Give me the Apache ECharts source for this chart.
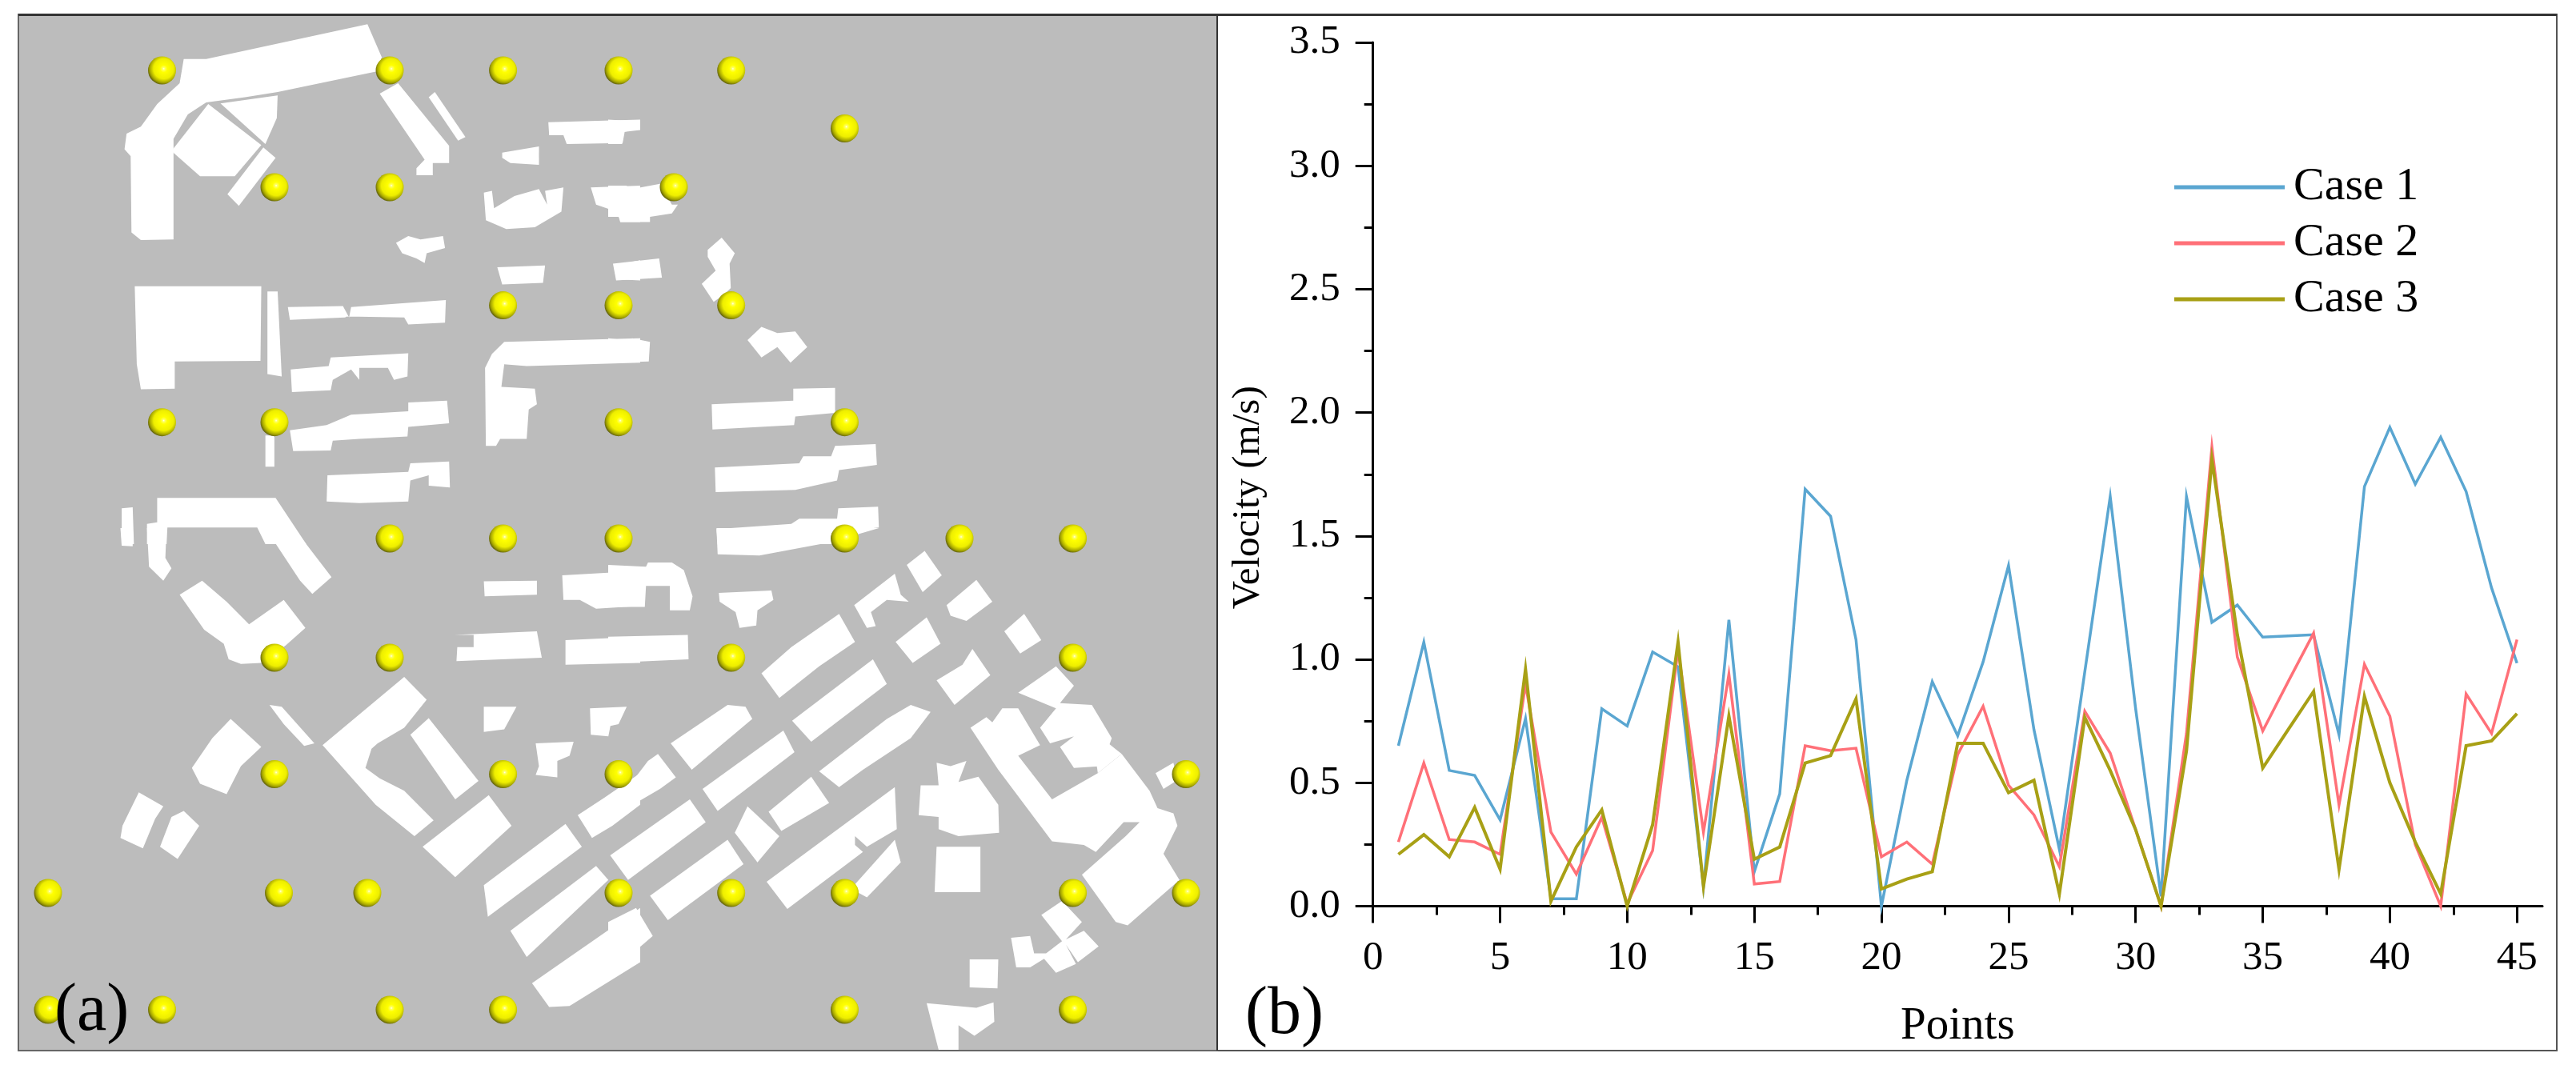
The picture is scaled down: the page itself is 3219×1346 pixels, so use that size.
<!DOCTYPE html>
<html><head><meta charset="utf-8">
<style>html,body{margin:0;padding:0;background:#fff}#c{width:3219px;height:1346px}</style>
<script src="https://cdn.jsdelivr.net/npm/echarts@6/dist/echarts.min.js"></script>
</head><body><div id="c"></div>
<script>
// ---- chart (b) data ----
const points = [1,2,3,4,5,6,7,8,9,10,11,12,13,14,15,16,17,18,19,20,21,22,23,24,25,26,27,28,29,30,31,32,33,34,35,36,37,38,39,40,41,42,43,44,45];
const case1 = [.65,1.07,.55,.53,.35,.76,.03,.03,.80,.73,1.03,.97,.08,1.16,.14,.455,1.69,1.58,1.08,0,.51,.91,.69,.99,1.38,.715,.23,.95,1.66,.80,.04,1.66,1.15,1.22,1.09,1.095,1.10,.695,1.70,1.94,1.71,1.90,1.68,1.29,.985];
const case2 = [.26,.58,.27,.26,.21,.90,.30,.13,.36,.01,.225,1.04,.30,.94,.09,.10,.65,.63,.64,.20,.26,.17,.615,.81,.49,.37,.16,.79,.62,.31,0,.70,1.86,1.01,.71,.91,1.106,.41,.98,.77,.25,0,.86,.70,1.08];
const case3 = [.21,.29,.20,.40,.15,.96,.02,.24,.39,0,.33,1.07,.08,.77,.19,.24,.58,.61,.84,.07,.11,.14,.66,.66,.46,.51,.05,.765,.55,.31,0,.63,1.81,1.10,.56,.715,.87,.15,.85,.50,.26,.05,.65,.67,.78];
const xMajorTicks = [0,5,10,15,20,25,30,35,40,45];
const xMinorTicks = [2.5,7.5,12.5,17.5,22.5,27.5,32.5,37.5,42.5];

// ---- map (a) data: the measuring points, in map units ----
const spherePoints = [
 [202.5,88],[487,88],[628.6,88],[773,88],[913.7,88],
 [1055.5,160.5],
 [343,234],[487,234],[842,234],
 [628.6,381.6],[773,381.6],[913.7,381.6],
 [202.5,527.7],[343,527.7],[773,527.7],[1055.5,527.7],
 [487,673],[628.6,673],[773,673],[1055.5,673],[1199,673],[1340.6,673],
 [343,822],[487,822],[913.7,822],[1340.6,822],
 [343,967.5],[628.6,967.5],[773,967.5],[1482,967.5],
 [60,1116],[348.5,1116],[459,1116],[773,1116],[913.7,1116],[1055.5,1116],[1340.6,1116],[1482,1116],
 [60,1262],[202.5,1262],[487,1262],[628.6,1262],[1055.5,1262],[1340.6,1262]
];
// building footprints, traced tile by tile
const tileNW = [
 [[450,170],[505,170],[900,70],[935,165],[925,205],[680,265],[600,280],[505,295],[460,330],[425,400],[425,690],[345,692],[322,670],[320,450],[305,430],[310,385],[345,365],[385,300],[440,240]],
 [[510,300],[640,418],[575,508],[490,508],[420,435]],
 [[540,298],[680,275],[678,340],[650,415]],
 [[645,425],[675,455],[585,593],[557,560]],
 [[930,270],[975,240],[1100,420],[1100,470],[1060,470],[1060,505],[1020,505],[1020,485],[1040,460]],
 [[1050,280],[1065,265],[1140,395],[1122,405]],
 [[1343,352],[1568,345],[1568,375],[1530,380],[1525,412],[1388,415],[1380,390],[1345,390]],
 [[1230,440],[1320,422],[1320,475],[1250,470],[1230,455]],
 [[1185,555],[1205,550],[1210,600],[1260,565],[1320,545],[1340,590],[1335,550],[1380,540],[1375,610],[1310,655],[1240,660],[1190,635]],
 [[1447,540],[1568,535],[1568,640],[1520,640],[1510,610],[1460,590]],
 [[970,700],[1000,680],[1030,690],[1085,680],[1090,715],[1045,730],[1040,758],[1020,745],[985,730]],
 [[1218,770],[1335,765],[1330,815],[1230,820]],
 [[1503,765],[1568,750],[1568,808],[1510,805]],
 [[330,825],[640,825],[638,1040],[428,1042],[428,1120],[345,1122],[335,1050]],
 [[655,840],[680,840],[690,1085],[655,1078]],
 [[705,885],[840,882],[855,915],[860,885],[1092,865],[1090,930],[1000,935],[990,915],[850,912],[845,915],[710,922]],
 [[712,1065],[805,1055],[810,1030],[1000,1018],[998,1085],[965,1095],[950,1060],[880,1060],[880,1095],[860,1065],[815,1095],[810,1125],[715,1130]],
 [[1235,985],[1568,975],[1568,1045],[1290,1055],[1235,1050],[1228,1115],[1310,1120],[1315,1165],[1295,1180],[1290,1265],[1225,1265],[1215,1285],[1190,1285],[1188,1060],[1205,1020]],
 [[710,1240],[800,1225],[860,1195],[1000,1185],[1000,1160],[1095,1155],[1100,1220],[1000,1230],[998,1258],[880,1265],[815,1270],[810,1298],[718,1300]],
 [[650,1255],[672,1255],[672,1345],[650,1345]],
 [[802,1370],[1000,1360],[1005,1335],[1100,1330],[1102,1405],[1050,1400],[1050,1370],[1005,1385],[1000,1445],[880,1450],[800,1445]],
 [[298,1465],[325,1462],[328,1568],[298,1568]],
 [[385,1435],[500,1435],[675,1435],[750,1568],[650,1568],[630,1520],[410,1520],[408,1568],[360,1568],[360,1510],[385,1505]]
];
const tileNE = [
 [[0,345],[75,350],[78,372],[40,380],[35,415],[0,415]],
 [[0,535],[45,535],[60,545],[130,530],[160,590],[175,590],[160,615],[105,625],[105,640],[30,640],[28,625],[0,625]],
 [[12,760],[128,745],[135,800],[20,808]],
 [[0,975],[40,980],[50,1005],[60,975],[105,985],[102,1042],[0,1045]],
 [[250,720],[285,685],[318,730],[305,760],[308,830],[290,850],[265,870],[235,818],[270,780],[250,740]],
 [[350,980],[385,942],[425,960],[470,955],[500,1000],[458,1045],[425,1000],[385,1030]],
 [[260,1165],[465,1155],[465,1120],[570,1118],[570,1190],[470,1200],[467,1225],[262,1238]],
 [[268,1347],[480,1335],[490,1315],[560,1315],[570,1285],[672,1280],[675,1340],[580,1355],[575,1385],[470,1412],[270,1418]],
 [[272,1525],[460,1510],[480,1495],[575,1495],[578,1465],[678,1460],[680,1520],[600,1530],[600,1568],[275,1568]]
];
const tileSW = [
 [[295,0],[325,0],[325,52],[298,50]],
 [[360,0],[408,0],[405,85],[420,115],[400,150],[365,110]],
 [[650,0],[720,0],[812,140],[765,188],[735,150]],
 [[440,190],[495,150],[555,210],[610,275],[695,205],[748,285],[700,335],[640,385],[590,388],[560,375],[548,330],[500,290]],
 [[660,505],[690,510],[770,615],[745,622],[695,560]],
 [[470,685],[520,600],[565,545],[640,625],[590,680],[555,760],[490,730]],
 [[340,755],[400,795],[380,830],[350,915],[295,885],[300,850]],
 [[420,825],[450,808],[488,850],[435,945],[392,910]],
 [[790,620],[990,425],[1045,490],[990,570],[925,615],[910,630],[895,685],[930,715],[990,750],[1062,835],[1015,880],[920,790]],
 [[1005,590],[1050,543],[1172,722],[1115,775]],
 [[1035,910],[1197,763],[1253,850],[1115,997]],
 [[1185,152],[1315,150],[1315,190],[1187,195]],
 [[1377,135],[1568,122],[1568,222],[1460,230],[1420,205],[1380,205]],
 [[1113,305],[1315,295],[1327,370],[1118,380],[1120,340],[1160,340],[1160,305]],
 [[1385,320],[1568,310],[1568,385],[1385,390]],
 [[1185,510],[1265,510],[1235,575],[1185,582]],
 [[1445,515],[1535,510],[1515,560],[1495,565],[1490,595],[1447,590]],
 [[1312,615],[1405,610],[1395,650],[1365,665],[1365,712],[1312,705],[1320,680]],
 [[1415,820],[1480,770],[1568,700],[1568,790],[1500,850],[1450,885]],
 [[1185,1020],[1385,845],[1425,910],[1195,1110]],
 [[1250,1150],[1460,965],[1490,1005],[1290,1225]],
 [[1303,1300],[1568,1085],[1568,1240],[1395,1365],[1345,1368]]
];
const tileSE = [
 [[0,105],[95,110],[100,98],[160,98],[190,120],[212,195],[205,235],[155,235],[155,165],[95,165],[92,225],[0,225]],
 [[0,310],[200,305],[202,375],[0,385]],
 [[278,185],[410,178],[415,205],[375,235],[372,278],[330,285],[320,240],[280,210]],
 [[0,790],[40,755],[100,665],[125,645],[170,712],[130,745],[55,795],[0,845]],
 [[5,935],[205,775],[245,840],[50,1005]],
 [[0,1125],[70,1085],[112,1165],[0,1275]],
 [[272,0],[680,0],[560,40],[380,78],[275,75]],
 [[385,415],[460,340],[580,245],[620,325],[530,395],[430,485]],
 [[618,220],[720,130],[735,190],[755,210],[700,205],[660,240],[672,280],[650,285]],
 [[750,105],[795,65],[838,135],[790,183]],
 [[850,220],[925,148],[965,210],[900,265],[860,250]],
 [[157,615],[300,505],[345,510],[362,545],[210,690]],
 [[462,550],[665,375],[700,445],[510,610]],
 [[722,325],[800,255],[835,330],[765,385]],
 [[825,435],[890,390],[915,345],[960,420],[870,505]],
 [[995,295],[1045,245],[1088,320],[1035,358]],
 [[237,745],[440,578],[468,640],[275,808]],
 [[530,695],[700,545],[760,505],[810,525],[760,600],[640,690],[580,740]],
 [[403,810],[510,710],[555,785],[435,865]],
 [[318,870],[350,795],[430,880],[375,955]],
 [[105,1050],[300,890],[340,960],[150,1120]],
 [[398,1010],[720,740],[725,860],[650,910],[620,880],[620,905],[640,925],[450,1088]],
 [[610,1030],[720,890],[735,955],[650,1055]],
 [[785,735],[830,735],[825,670],[860,680],[900,665],[880,725],[930,710],[980,790],[982,870],[880,880],[830,860],[830,825],[780,820]],
 [[825,910],[935,910],[935,1040],[820,1040]],
 [[908,1232],[980,1232],[978,1315],[908,1312]],
 [[800,1357],[925,1370],[968,1355],[970,1410],[920,1450],[880,1420],[880,1490],[830,1490]],
 [[910,570],[950,540],[965,555],[990,515],[1030,515],[1085,620],[1030,650],[1115,775],[1230,700],[1290,645],[1360,750],[1380,800],[1420,815],[1430,850],[1395,930],[1435,1005],[1305,1135],[1275,1125],[1190,990],[1300,880],[1335,840],[1295,840],[1225,925],[1195,905],[1115,895],[980,690]],
 [[1030,470],[1125,395],[1170,450],[1135,500],[1215,505],[1265,600],[1240,680],[1170,685],[1135,625],[1170,595],[1110,615],[1085,570],[1125,515]],
 [[1240,600],[1290,645],[1230,700],[1225,660]],
 [[1375,700],[1420,670],[1430,720],[1395,745]],
 [[1088,1105],[1140,1065],[1190,1125],[1150,1175],[1195,1150],[1232,1195],[1180,1240],[1150,1190],[1175,1245],[1125,1270],[1095,1230],[1060,1255],[1025,1255],[1012,1170],[1060,1165],[1070,1215],[1100,1215],[1140,1180]]
];

// tiles -> map units
const tile = (polys, sx, sy, ox, oy) => polys.map(p => p.map(([x,y]) => [x/sx+ox, y/sy+oy]));
const buildings = [].concat(
  tile(tileNW, 1.96, 2.306, 0, 0),
  tile(tileNE, 2.0103, 2.306, 760, 0),
  tile(tileSW, 1.96, 2.2857, 0, 660),
  tile(tileSE, 2.0103, 2.2857, 760, 660)
);

const serif = '"Liberation Serif","Times New Roman",serif';
const sphereFill = new echarts.graphic.RadialGradient(0.56, 0.44, 0.6, [
  {offset:0, color:'#fffff2'},{offset:0.07, color:'#ffff66'},{offset:0.22, color:'#ffff00'},
  {offset:0.6, color:'#eeee00'},{offset:0.82, color:'#a8a800'},{offset:1, color:'#4c4c10'}
]);

const chart = echarts.init(document.getElementById('c'), null, {renderer:'canvas'});
chart.setOption({
  animation:false,
  backgroundColor:'#ffffff',
  graphic:[
    {type:'rect', z:-1, shape:{x:1521,y:18,width:1674,height:1295}, style:{fill:'#fff',stroke:'#555',lineWidth:2}},
    {type:'line', z:50, shape:{x1:23,y1:18.5,x2:3195,y2:18.5}, style:{stroke:'#333',lineWidth:3}},
    {type:'line', z:50, shape:{x1:1521,y1:18,x2:1521,y2:1313}, style:{stroke:'#333',lineWidth:2}},
    {type:'text', z:60, x:68, y:1223, style:{text:'(a)',font:'84px '+serif,fill:'#000'}},
    {type:'text', z:60, x:1556, y:1227, style:{text:'(b)',font:'84px '+serif,fill:'#000'}}
  ],
  legend:{
    left:2717, top:205, padding:0, orient:'vertical', itemWidth:138, itemHeight:5, itemGap:12,
    icon:'rect', data:['Case 1','Case 2','Case 3'], selectedMode:false,
    textStyle:{fontFamily:serif,fontSize:58,color:'#000',padding:[0,0,0,6]}
  },
  grid:[
    {left:23, top:18, width:1498, height:1295, show:true, backgroundColor:'#bcbcbc', borderColor:'#666', borderWidth:2},
    {left:1715.7, top:53, width:1461.3, height:1079.5}
  ],
  xAxis:[
    {gridIndex:0, type:'value', min:23, max:1521, show:false},
    {gridIndex:1, type:'value', position:'bottom', min:0, max:46, interval:5,
     name:'Points', nameLocation:'middle', nameGap:122,
     nameTextStyle:{fontFamily:serif,fontSize:57,color:'#000'},
     axisLine:{show:true,lineStyle:{color:'#000',width:3}},
     axisTick:{show:true,length:21,customValues:xMajorTicks,lineStyle:{color:'#000',width:3}},
     axisLabel:{margin:40,fontFamily:serif,fontSize:51,color:'#000',customValues:xMajorTicks},
     splitLine:{show:false}},
    {gridIndex:1, type:'value', position:'bottom', min:0, max:46, interval:5,
     axisLine:{show:false},
     axisTick:{show:true,length:11,customValues:xMinorTicks,lineStyle:{color:'#000',width:3}},
     axisLabel:{show:false}, splitLine:{show:false}}
  ],
  yAxis:[
    {gridIndex:0, type:'value', min:18, max:1313, inverse:true, show:false},
    {gridIndex:1, type:'value', min:0, max:3.5, interval:0.5,
     name:'Velocity (m/s)', nameLocation:'middle', nameGap:131, nameRotate:90,
     nameTextStyle:{fontFamily:serif,fontSize:49,color:'#000',padding:[0,58,0,0]},
     axisLine:{show:true,lineStyle:{color:'#000',width:3}},
     axisTick:{show:true,length:22,lineStyle:{color:'#000',width:3}},
     minorTick:{show:true,splitNumber:2,length:11,lineStyle:{color:'#000',width:3}},
     axisLabel:{margin:41,fontFamily:serif,fontSize:51,color:'#000',formatter:v=>v.toFixed(1)},
     splitLine:{show:false}}
  ],
  series:[
    {type:'custom', name:'Buildings', xAxisIndex:0, yAxisIndex:0, silent:true, z:2, clip:true,
     data:buildings.map((_,i)=>[i]),
     renderItem:(params,api)=>({type:'polygon',
       shape:{points:buildings[params.dataIndex].map(p=>api.coord(p))},
       style:{fill:'#ffffff'}})},
    {type:'scatter', name:'Measuring points', xAxisIndex:0, yAxisIndex:0, z:3, silent:true,
     data:spherePoints, symbol:'circle', symbolSize:35,
     itemStyle:{color:sphereFill, opacity:1}},
    {type:'line', name:'Case 1', xAxisIndex:1, yAxisIndex:1, z:4, data:points.map((x,i)=>[x,case1[i]]),
     showSymbol:false, symbol:'none', clip:false, color:'#5aa6d1', lineStyle:{width:3.5,color:'#5aa6d1',join:'miter'}},
    {type:'line', name:'Case 2', xAxisIndex:1, yAxisIndex:1, z:5, data:points.map((x,i)=>[x,case2[i]]),
     showSymbol:false, symbol:'none', clip:false, color:'#ff7078', lineStyle:{width:3.5,color:'#ff7078',join:'miter'}},
    {type:'line', name:'Case 3', xAxisIndex:1, yAxisIndex:1, z:6, data:points.map((x,i)=>[x,case3[i]]),
     showSymbol:false, symbol:'none', clip:false, color:'#a8a015', lineStyle:{width:4,color:'#a8a015',join:'miter'}}
  ]
});
</script></body></html>
